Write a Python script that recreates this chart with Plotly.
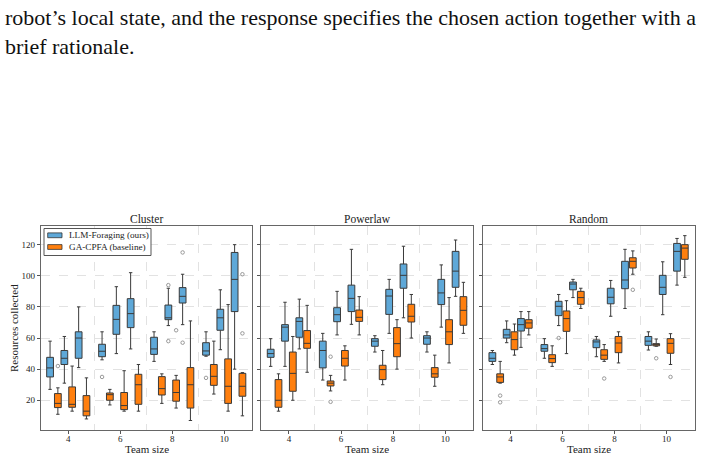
import plotly.graph_objects as go

W, H = 704, 458

# ---------------- data ----------------
team_sizes = [4, 6, 8, 10]
panel_names = ["Cluster", "Powerlaw", "Random"]
method_names = ["LLM-Foraging (ours)", "GA-CPFA (baseline)"]

# each tuple: (lower whisker, q1, median, q3, upper whisker); order: team 4 (3 boxes), team 6, team 8, team 10
cluster_llm = [(27, 35, 40.8, 47.6, 58), (31, 43, 47, 52, 61), (41, 47, 60, 64, 80),
               (46, 48, 51.5, 56, 64), (50, 62.4, 72, 81, 93), (53, 66.7, 75.7, 85.3, 102),
               (45, 49.5, 53, 60.5, 64), (68, 71.8, 73, 81.2, 92), (68.6, 82.5, 86.8, 92.4, 101),
               (48.3, 49, 51.7, 57, 64), (52.5, 65, 73, 78.5, 91), (40, 77, 97.7, 115, 120)]
cluster_ga = [(11, 15.3, 18, 24.3, 28), (13, 15.5, 17.4, 28.6, 42), (8, 10, 13, 23, 34.4),
              (17, 20, 23.6, 24.7, 27), (13, 14, 16.6, 25, 39), (13, 17.4, 30, 36.7, 43),
              (18, 23.4, 27.5, 35.2, 37), (15, 19.4, 25, 33, 36), (7, 15, 30, 41, 71),
              (24, 29.6, 35.4, 43, 58), (13, 18, 29, 46.6, 81.5), (10, 22.6, 29, 37.3, 37.8)]
powerlaw_llm = [(41.8, 47.6, 50, 52.8, 59.6), (41.8, 58, 67, 68.6, 83), (53, 60.5, 70.7, 73, 85),
                (33, 40.8, 52, 58, 63), (62, 70.5, 75, 79.5, 90), (68.8, 77, 85.5, 94, 117),
                (51, 54.7, 58, 59.6, 61.5), (63, 75.2, 87, 91.3, 97.7), (73, 92, 100.3, 107.6, 119),
                (51, 56, 60, 61.5, 64), (67, 81.5, 89, 97.7, 107), (86.8, 92.6, 103, 115.7, 123)]
powerlaw_ga = [(13, 15.5, 20, 33.3, 37), (20, 25.8, 37.3, 51, 61), (38, 53.4, 56.6, 64.8, 81),
               (26, 29.2, 31, 32.4, 36), (33, 42, 47, 52, 55), (62, 70.7, 73.3, 78, 86.6),
               (30, 33.3, 39.7, 42.5, 52), (40, 48, 56.4, 66.7, 71.8), (60, 70.3, 74, 81.7, 88),
               (29, 34.8, 37, 41, 49), (44, 55.8, 64, 71.8, 86), (63, 68.2, 77.8, 86.6, 95.8)]
random_llm = [(43, 45, 47, 50.6, 52), (57, 60, 62, 65.6, 71), (54, 64.5, 68.6, 72.5, 77),
              (47, 51.5, 53.2, 55.8, 59.6), (68, 74.4, 80.4, 83.6, 88), (86, 91, 94.7, 96, 97.7),
              (48, 53.8, 57.5, 58.8, 61), (74, 82, 86.2, 92, 97), (79, 91.7, 97.3, 109.3, 117),
              (52.3, 55.3, 58, 61, 64), (75, 88, 92.6, 100.3, 109), (94, 103, 115.7, 120.8, 124)]
random_ga = [(31, 31.5, 35, 37, 45), (49, 52.5, 59, 64, 69), (62, 66.3, 69.7, 71.8, 77),
             (41.8, 44.2, 46.8, 49.3, 55), (50, 64.3, 72.5, 77.4, 84), (79, 81.7, 86, 90, 92),
             (45, 46.3, 49, 52.5, 55.8), (44, 50.6, 56.8, 61, 64), (101, 105, 109.3, 111.6, 116),
             (54.7, 55, 55.8, 56.4, 59.4), (43, 50.2, 56.6, 59.6, 62.8), (99, 110.6, 117.8, 120, 125.8)]

# outliers: (team size, box slot 0-2, value)
cluster_llm_out = [(6, 0, 35), (8, 1, 94), (8, 1, 58), (8, 2, 115), (8, 2, 57), (10, 0, 34.4)]
cluster_ga_out = [(4, 0, 42), (8, 1, 65), (10, 2, 101), (10, 2, 63)]
powerlaw_llm_out = []
powerlaw_ga_out = [(6, 0, 48), (6, 0, 19)]
random_llm_out = [(6, 1, 60)]
random_ga_out = [(4, 0, 23), (4, 0, 18.7), (8, 0, 34), (8, 2, 91), (10, 0, 47), (10, 1, 35)]

y_ticks = [20, 40, 60, 80, 100, 120]

# ---------------- style ----------------
colors = ["#5ea8d8", "#ff7f0e"]
slot_offsets = [-0.55, 0.0, 0.55]
method_offsets = [-0.15, 0.15]
box_width = 0.26
serif = "Liberation Serif"

panels = [(cluster_llm, cluster_ga, cluster_llm_out, cluster_ga_out),
          (powerlaw_llm, powerlaw_ga, powerlaw_llm_out, powerlaw_ga_out),
          (random_llm, random_ga, random_llm_out, random_ga_out)]

x_domains = [(40.7, 252.3), (261.3, 473.3), (483.0, 694.7)]
y_top, y_bot = 226, 430

fig = go.Figure()

for p, (llm, ga, llm_out, ga_out) in enumerate(panels):
    xa = "x" if p == 0 else f"x{p + 1}"
    ya = "y" if p == 0 else f"y{p + 1}"
    for m, (stats, outs) in enumerate([(llm, llm_out), (ga, ga_out)]):
        xs = [t + so + method_offsets[m] for t in team_sizes for so in slot_offsets]
        fig.add_trace(go.Box(
            x=xs,
            lowerfence=[s[0] for s in stats],
            q1=[s[1] for s in stats],
            median=[s[2] for s in stats],
            q3=[s[3] for s in stats],
            upperfence=[s[4] for s in stats],
            width=box_width,
            whiskerwidth=0.5,
            fillcolor=colors[m],
            line=dict(color="#3a3a3a", width=1),
            boxpoints=False,
            name=method_names[m],
            showlegend=False,
            hoverinfo="skip",
            xaxis=xa, yaxis=ya,
        ))
        if outs:
            fig.add_trace(go.Scatter(
                x=[t + slot_offsets[s] + method_offsets[m] for t, s, v in outs],
                y=[v for t, s, v in outs],
                mode="markers",
                marker=dict(symbol="circle-open", size=3.5, color="#999999", line=dict(width=1)),
                showlegend=False, hoverinfo="skip",
                xaxis=xa, yaxis=ya,
            ))

layout = dict(
    width=W, height=H,
    margin=dict(l=0, r=0, t=0, b=0),
    paper_bgcolor="white", plot_bgcolor="white",
    boxmode="overlay",
    showlegend=False,
    font=dict(family=serif, color="#222"),
)

annotations = []
for p in range(3):
    sfx = "" if p == 0 else str(p + 1)
    x0, x1 = x_domains[p]
    layout["xaxis" + sfx] = dict(
        domain=[x0 / W, x1 / W], range=[2.94, 11.08],
        anchor="y" + sfx,
        tickvals=team_sizes, ticktext=[str(t) for t in team_sizes],
        ticks="outside", ticklen=3, tickcolor="#555",
        ticklabelstandoff=-3,
        tickfont=dict(family=serif, size=9, color="#222"),
        showgrid=False, zeroline=False,
        showline=True, linecolor="#666", linewidth=1, mirror=True,
        minor=dict(tickvals=[5, 7, 9], showgrid=True, gridcolor="#e2e2e2",
                   griddash="dash", gridwidth=1, ticklen=0),
    )
    layout["yaxis" + sfx] = dict(
        domain=[1 - y_bot / H, 1 - y_top / H], range=[0.9, 132],
        anchor="x" + sfx,
        tickvals=y_ticks, ticktext=[str(v) for v in y_ticks] if p == 0 else [""] * len(y_ticks),
        ticks="outside", ticklen=3, tickcolor="#555",
        tickfont=dict(family=serif, size=9, color="#222"),
        showgrid=True, gridcolor="#e2e2e2", griddash="dash", gridwidth=1,
        zeroline=False,
        showline=True, linecolor="#666", linewidth=1, mirror=True,
    )
    annotations.append(dict(text=panel_names[p], x=(x0 + x1) / 2 / W, y=1 - 219 / H,
                            xref="paper", yref="paper", showarrow=False,
                            xanchor="center", yanchor="middle",
                            font=dict(family=serif, size=11.5, color="#222")))
    annotations.append(dict(text="Team size", x=(x0 + x1) / 2 / W, y=1 - 449 / H,
                            xref="paper", yref="paper", showarrow=False,
                            xanchor="center", yanchor="middle",
                            font=dict(family=serif, size=11, color="#222")))

annotations.append(dict(text="Resources collected", x=14 / W, y=1 - 328 / H,
                        xref="paper", yref="paper", showarrow=False, textangle=-90,
                        xanchor="center", yanchor="middle",
                        font=dict(family=serif, size=11, color="#222")))
annotations.append(dict(text="robot\u2019s local state, and the response specifies the chosen action together with a"
                             "<br>brief rationale.",
                        x=3 / W, y=1 - 3 / H, xref="paper", yref="paper",
                        xanchor="left", yanchor="top", align="left",
                        showarrow=False, font=dict(family=serif, size=22, color="#111")))

# manual legend (matplotlib-style compact legend box)
shapes = [dict(type="rect", xref="paper", yref="paper",
               x0=44 / W, x1=151 / W, y0=1 - 255.5 / H, y1=1 - 228.5 / H,
               line=dict(color="#555", width=1), fillcolor="white", layer="above")]
legend_rows = [235.3, 247.0]
for m in range(2):
    yc = legend_rows[m]
    shapes.append(dict(type="rect", xref="paper", yref="paper",
                       x0=47.7 / W, x1=62 / W, y0=1 - (yc + 2.4) / H, y1=1 - (yc - 2.4) / H,
                       line=dict(color="#333", width=0.8), fillcolor=colors[m], layer="above"))
    annotations.append(dict(text=method_names[m], x=66.5 / W, y=1 - yc / H,
                            xref="paper", yref="paper", showarrow=False,
                            xanchor="left", yanchor="middle",
                            font=dict(family=serif, size=9.2, color="#222")))
layout["shapes"] = shapes
layout["annotations"] = annotations

fig.update_layout(**layout)
fig.write_html("out.html")
